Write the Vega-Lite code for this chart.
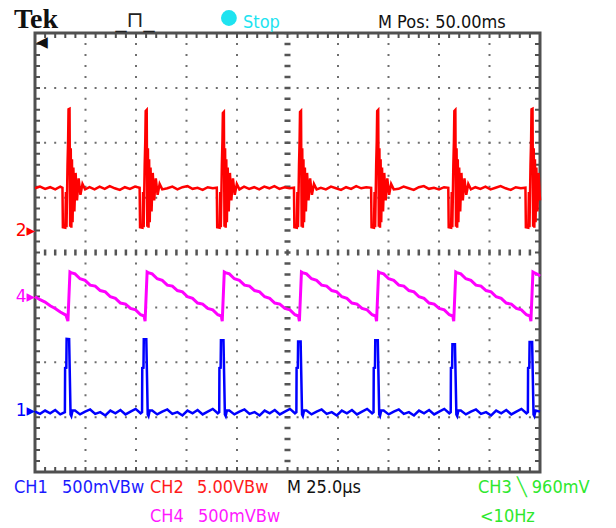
{
  "$schema": "https://vega.github.io/schema/vega-lite/v6.json",
  "width": 505,
  "height": 439,
  "autosize": {"type": "none"},
  "padding": {"left": 35, "top": 33, "right": 76, "bottom": 56},
  "background": "white",
  "config": {"view": {"stroke": "#505050", "strokeWidth": 3}},
  "datasets": {
    "one": [{}],
    "ch2": [
      {"t":0,"v":1.17},{"t":2.5,"v":1.20},{"t":5,"v":1.16},{"t":7.5,"v":1.19},{"t":10,"v":1.15},{"t":12.5,"v":1.20},
      {"t":13.6,"v":1.18},{"t":13.8,"v":0.46},{"t":15.0,"v":0.45},{"t":15.3,"v":1.10},{"t":15.6,"v":0.46},{"t":16.1,"v":1.60},{"t":16.4,"v":2.05},{"t":16.6,"v":2.61},{"t":17.1,"v":2.62},{"t":17.4,"v":0.47},{"t":17.7,"v":1.90},{"t":18.0,"v":0.45},{"t":18.3,"v":1.70},{"t":18.6,"v":0.55},{"t":19.0,"v":1.55},{"t":19.5,"v":0.75},{"t":20.1,"v":1.45},{"t":20.8,"v":0.95},{"t":21.6,"v":1.35},{"t":22.5,"v":1.05},{"t":23.5,"v":1.25},{"t":24.8,"v":1.15},
      {"t":27,"v":1.19},{"t":29.5,"v":1.15},{"t":32,"v":1.20},{"t":34.5,"v":1.16},{"t":37,"v":1.21},{"t":39.5,"v":1.17},{"t":42,"v":1.14},{"t":44.5,"v":1.19},{"t":47,"v":1.16},{"t":49.5,"v":1.20},
      {"t":51.8,"v":1.18},{"t":52.0,"v":0.46},{"t":53.2,"v":0.45},{"t":53.5,"v":1.10},{"t":53.8,"v":0.46},{"t":54.3,"v":1.60},{"t":54.6,"v":2.05},{"t":54.8,"v":2.58},{"t":55.3,"v":2.60},{"t":55.6,"v":0.47},{"t":55.9,"v":1.90},{"t":56.2,"v":0.45},{"t":56.5,"v":1.70},{"t":56.8,"v":0.55},{"t":57.2,"v":1.55},{"t":57.7,"v":0.75},{"t":58.3,"v":1.45},{"t":59.0,"v":0.95},{"t":59.8,"v":1.35},{"t":60.7,"v":1.05},{"t":61.7,"v":1.25},{"t":63.0,"v":1.15},
      {"t":65.5,"v":1.17},{"t":68,"v":1.20},{"t":70.5,"v":1.15},{"t":73,"v":1.19},{"t":75.5,"v":1.21},{"t":78,"v":1.16},{"t":80.5,"v":1.18},{"t":83,"v":1.14},{"t":85.5,"v":1.19},{"t":88,"v":1.17},
      {"t":90.0,"v":1.18},{"t":90.2,"v":0.46},{"t":91.4,"v":0.45},{"t":91.7,"v":1.10},{"t":92.0,"v":0.46},{"t":92.5,"v":1.60},{"t":92.8,"v":2.05},{"t":93.0,"v":2.54},{"t":93.5,"v":2.56},{"t":93.8,"v":0.47},{"t":94.1,"v":1.90},{"t":94.4,"v":0.45},{"t":94.7,"v":1.70},{"t":95.0,"v":0.55},{"t":95.4,"v":1.55},{"t":95.9,"v":0.75},{"t":96.5,"v":1.45},{"t":97.2,"v":0.95},{"t":98.0,"v":1.35},{"t":98.9,"v":1.05},{"t":99.9,"v":1.25},{"t":101.2,"v":1.15},
      {"t":103.5,"v":1.20},{"t":106,"v":1.16},{"t":108.5,"v":1.19},{"t":111,"v":1.15},{"t":113.5,"v":1.20},{"t":116,"v":1.17},{"t":118.5,"v":1.21},{"t":121,"v":1.16},{"t":123.5,"v":1.19},{"t":126,"v":1.17},
      {"t":128.2,"v":1.18},{"t":128.4,"v":0.46},{"t":129.6,"v":0.45},{"t":129.9,"v":1.10},{"t":130.2,"v":0.46},{"t":130.7,"v":1.60},{"t":131.0,"v":2.05},{"t":131.2,"v":2.56},{"t":131.7,"v":2.58},{"t":132.0,"v":0.47},{"t":132.3,"v":1.90},{"t":132.6,"v":0.45},{"t":132.9,"v":1.70},{"t":133.2,"v":0.55},{"t":133.6,"v":1.55},{"t":134.1,"v":0.75},{"t":134.7,"v":1.45},{"t":135.4,"v":0.95},{"t":136.2,"v":1.35},{"t":137.1,"v":1.05},{"t":138.1,"v":1.25},{"t":139.4,"v":1.15},
      {"t":141.5,"v":1.18},{"t":144,"v":1.15},{"t":146.5,"v":1.20},{"t":149,"v":1.17},{"t":151.5,"v":1.14},{"t":154,"v":1.19},{"t":156.5,"v":1.16},{"t":159,"v":1.21},{"t":161.5,"v":1.17},{"t":164,"v":1.19},
      {"t":166.4,"v":1.18},{"t":166.6,"v":0.46},{"t":167.8,"v":0.45},{"t":168.1,"v":1.10},{"t":168.4,"v":0.46},{"t":168.9,"v":1.60},{"t":169.2,"v":2.05},{"t":169.4,"v":2.58},{"t":169.9,"v":2.60},{"t":170.2,"v":0.47},{"t":170.5,"v":1.90},{"t":170.8,"v":0.45},{"t":171.1,"v":1.70},{"t":171.4,"v":0.55},{"t":171.8,"v":1.55},{"t":172.3,"v":0.75},{"t":172.9,"v":1.45},{"t":173.6,"v":0.95},{"t":174.4,"v":1.35},{"t":175.3,"v":1.05},{"t":176.3,"v":1.25},{"t":177.6,"v":1.15},
      {"t":180,"v":1.16},{"t":182.5,"v":1.20},{"t":185,"v":1.17},{"t":187.5,"v":1.14},{"t":190,"v":1.19},{"t":192.5,"v":1.21},{"t":195,"v":1.16},{"t":197.5,"v":1.18},{"t":200,"v":1.15},{"t":202.5,"v":1.19},
      {"t":204.6,"v":1.18},{"t":204.8,"v":0.46},{"t":206.0,"v":0.45},{"t":206.3,"v":1.10},{"t":206.6,"v":0.46},{"t":207.1,"v":1.60},{"t":207.4,"v":2.05},{"t":207.6,"v":2.58},{"t":208.1,"v":2.60},{"t":208.4,"v":0.47},{"t":208.7,"v":1.90},{"t":209.0,"v":0.45},{"t":209.3,"v":1.70},{"t":209.6,"v":0.55},{"t":210.0,"v":1.55},{"t":210.5,"v":0.75},{"t":211.1,"v":1.45},{"t":211.8,"v":0.95},{"t":212.6,"v":1.35},{"t":213.5,"v":1.05},{"t":214.5,"v":1.25},{"t":215.8,"v":1.15},
      {"t":218,"v":1.19},{"t":220.5,"v":1.16},{"t":223,"v":1.20},{"t":225.5,"v":1.15},{"t":228,"v":1.18},{"t":230.5,"v":1.21},{"t":233,"v":1.17},{"t":235.5,"v":1.14},{"t":238,"v":1.19},{"t":240.5,"v":1.17},
      {"t":242.8,"v":1.18},{"t":243.0,"v":0.46},{"t":244.2,"v":0.45},{"t":244.5,"v":1.10},{"t":244.8,"v":0.46},{"t":245.3,"v":1.60},{"t":245.6,"v":2.05},{"t":245.8,"v":2.61},{"t":246.3,"v":2.62},{"t":246.6,"v":0.47},{"t":246.9,"v":1.90},{"t":247.2,"v":0.45},{"t":247.5,"v":1.70},{"t":247.8,"v":0.55},{"t":248.2,"v":1.55},{"t":248.7,"v":0.75},{"t":249.3,"v":1.45},{"t":250.0,"v":0.95}
    ],
    "ch4": [
      {"t":0,"v":-0.805},{"t":2.5,"v":-0.860},{"t":5,"v":-0.903},{"t":7.5,"v":-0.970},{"t":10,"v":-1.02},{"t":12.5,"v":-1.085},{"t":15.3,"v":-1.14},{"t":16.3,"v":-1.25},
      {"t":17.3,"v":-0.355},{"t":17.8,"v":-0.366},{"t":19.8,"v":-0.390},{"t":22.3,"v":-0.479},{"t":24.8,"v":-0.509},{"t":27.3,"v":-0.594},{"t":29.8,"v":-0.613},{"t":32.3,"v":-0.693},{"t":34.8,"v":-0.717},{"t":37.3,"v":-0.807},{"t":39.8,"v":-0.837},{"t":42.3,"v":-0.921},{"t":44.8,"v":-0.941},{"t":47.3,"v":-1.020},{"t":49.8,"v":-1.045},{"t":52.3,"v":-1.134},{"t":54.0,"v":-1.157},{"t":54.5,"v":-1.25},
      {"t":55.5,"v":-0.355},{"t":56.0,"v":-0.366},{"t":58.0,"v":-0.390},{"t":60.5,"v":-0.479},{"t":63.0,"v":-0.509},{"t":65.5,"v":-0.594},{"t":68.0,"v":-0.613},{"t":70.5,"v":-0.693},{"t":73.0,"v":-0.717},{"t":75.5,"v":-0.807},{"t":78.0,"v":-0.837},{"t":80.5,"v":-0.921},{"t":83.0,"v":-0.941},{"t":85.5,"v":-1.020},{"t":88.0,"v":-1.045},{"t":90.5,"v":-1.134},{"t":92.2,"v":-1.157},{"t":92.7,"v":-1.25},
      {"t":93.7,"v":-0.355},{"t":94.2,"v":-0.366},{"t":96.2,"v":-0.390},{"t":98.7,"v":-0.479},{"t":101.2,"v":-0.509},{"t":103.7,"v":-0.594},{"t":106.2,"v":-0.613},{"t":108.7,"v":-0.693},{"t":111.2,"v":-0.717},{"t":113.7,"v":-0.807},{"t":116.2,"v":-0.837},{"t":118.7,"v":-0.921},{"t":121.2,"v":-0.941},{"t":123.7,"v":-1.020},{"t":126.2,"v":-1.045},{"t":128.7,"v":-1.134},{"t":130.4,"v":-1.157},{"t":130.9,"v":-1.25},
      {"t":131.9,"v":-0.355},{"t":132.4,"v":-0.366},{"t":134.4,"v":-0.390},{"t":136.9,"v":-0.479},{"t":139.4,"v":-0.509},{"t":141.9,"v":-0.594},{"t":144.4,"v":-0.613},{"t":146.9,"v":-0.693},{"t":149.4,"v":-0.717},{"t":151.9,"v":-0.807},{"t":154.4,"v":-0.837},{"t":156.9,"v":-0.921},{"t":159.4,"v":-0.941},{"t":161.9,"v":-1.020},{"t":164.4,"v":-1.045},{"t":166.9,"v":-1.134},{"t":168.6,"v":-1.157},{"t":169.1,"v":-1.25},
      {"t":170.1,"v":-0.355},{"t":170.6,"v":-0.366},{"t":172.6,"v":-0.390},{"t":175.1,"v":-0.479},{"t":177.6,"v":-0.509},{"t":180.1,"v":-0.594},{"t":182.6,"v":-0.613},{"t":185.1,"v":-0.693},{"t":187.6,"v":-0.717},{"t":190.1,"v":-0.807},{"t":192.6,"v":-0.837},{"t":195.1,"v":-0.921},{"t":197.6,"v":-0.941},{"t":200.1,"v":-1.020},{"t":202.6,"v":-1.045},{"t":205.1,"v":-1.134},{"t":206.8,"v":-1.157},{"t":207.3,"v":-1.25},
      {"t":208.3,"v":-0.355},{"t":208.8,"v":-0.366},{"t":210.8,"v":-0.390},{"t":213.3,"v":-0.479},{"t":215.8,"v":-0.509},{"t":218.3,"v":-0.594},{"t":220.8,"v":-0.613},{"t":223.3,"v":-0.693},{"t":225.8,"v":-0.717},{"t":228.3,"v":-0.807},{"t":230.8,"v":-0.837},{"t":233.3,"v":-0.921},{"t":235.8,"v":-0.941},{"t":238.3,"v":-1.020},{"t":240.8,"v":-1.045},{"t":243.3,"v":-1.134},{"t":245.0,"v":-1.157},{"t":245.5,"v":-1.25},
      {"t":246.5,"v":-0.355},{"t":247.0,"v":-0.366},{"t":249.0,"v":-0.40},{"t":250,"v":-0.43}
    ],
    "ch1": [
      {"t":0,"v":-2.90},{"t":2.5,"v":-2.94},{"t":5,"v":-2.88},{"t":7.5,"v":-2.93},{"t":10,"v":-2.87},{"t":12.5,"v":-2.95},
      {"t":14.8,"v":-2.91},{"t":14.9,"v":-2.105},{"t":15.5,"v":-2.10},{"t":15.65,"v":-1.576},{"t":16.9,"v":-1.58},{"t":17.6,"v":-2.95},{"t":18.0,"v":-2.98},{"t":18.6,"v":-2.88},
      {"t":19.8,"v":-2.88},{"t":22.3,"v":-2.95},{"t":24.8,"v":-2.90},{"t":27.3,"v":-2.86},{"t":29.8,"v":-2.94},{"t":32.3,"v":-2.91},{"t":34.8,"v":-2.97},{"t":37.3,"v":-2.88},{"t":39.8,"v":-2.93},{"t":42.3,"v":-2.87},{"t":44.8,"v":-2.95},{"t":47.3,"v":-2.90},{"t":49.8,"v":-2.85},{"t":52.3,"v":-2.93},
      {"t":53.0,"v":-2.91},{"t":53.1,"v":-2.105},{"t":53.7,"v":-2.10},{"t":53.85,"v":-1.58},{"t":55.1,"v":-1.58},{"t":55.8,"v":-2.95},{"t":56.2,"v":-2.98},{"t":56.8,"v":-2.88},
      {"t":58.0,"v":-2.88},{"t":60.5,"v":-2.95},{"t":63.0,"v":-2.90},{"t":65.5,"v":-2.86},{"t":68.0,"v":-2.94},{"t":70.5,"v":-2.91},{"t":73.0,"v":-2.97},{"t":75.5,"v":-2.88},{"t":78.0,"v":-2.93},{"t":80.5,"v":-2.87},{"t":83.0,"v":-2.95},{"t":85.5,"v":-2.90},{"t":88.0,"v":-2.85},{"t":90.5,"v":-2.93},
      {"t":91.2,"v":-2.91},{"t":91.3,"v":-2.105},{"t":91.9,"v":-2.10},{"t":92.05,"v":-1.60},{"t":93.3,"v":-1.60},{"t":94.0,"v":-2.95},{"t":94.4,"v":-2.98},{"t":95.0,"v":-2.88},
      {"t":96.2,"v":-2.88},{"t":98.7,"v":-2.95},{"t":101.2,"v":-2.90},{"t":103.7,"v":-2.86},{"t":106.2,"v":-2.94},{"t":108.7,"v":-2.91},{"t":111.2,"v":-2.97},{"t":113.7,"v":-2.88},{"t":116.2,"v":-2.93},{"t":118.7,"v":-2.87},{"t":121.2,"v":-2.95},{"t":123.7,"v":-2.90},{"t":126.2,"v":-2.85},{"t":128.7,"v":-2.93},
      {"t":129.4,"v":-2.91},{"t":129.5,"v":-2.105},{"t":130.1,"v":-2.10},{"t":130.25,"v":-1.62},{"t":131.5,"v":-1.62},{"t":132.2,"v":-2.95},{"t":132.6,"v":-2.98},{"t":133.2,"v":-2.88},
      {"t":134.4,"v":-2.88},{"t":136.9,"v":-2.95},{"t":139.4,"v":-2.90},{"t":141.9,"v":-2.86},{"t":144.4,"v":-2.94},{"t":146.9,"v":-2.91},{"t":149.4,"v":-2.97},{"t":151.9,"v":-2.88},{"t":154.4,"v":-2.93},{"t":156.9,"v":-2.87},{"t":159.4,"v":-2.95},{"t":161.9,"v":-2.90},{"t":164.4,"v":-2.85},{"t":166.9,"v":-2.93},
      {"t":167.6,"v":-2.91},{"t":167.7,"v":-2.105},{"t":168.3,"v":-2.10},{"t":168.45,"v":-1.60},{"t":169.7,"v":-1.60},{"t":170.4,"v":-2.95},{"t":170.8,"v":-2.98},{"t":171.4,"v":-2.88},
      {"t":172.6,"v":-2.88},{"t":175.1,"v":-2.95},{"t":177.6,"v":-2.90},{"t":180.1,"v":-2.86},{"t":182.6,"v":-2.94},{"t":185.1,"v":-2.91},{"t":187.6,"v":-2.97},{"t":190.1,"v":-2.88},{"t":192.6,"v":-2.93},{"t":195.1,"v":-2.87},{"t":197.6,"v":-2.95},{"t":200.1,"v":-2.90},{"t":202.6,"v":-2.85},{"t":205.1,"v":-2.93},
      {"t":205.8,"v":-2.91},{"t":205.9,"v":-2.105},{"t":206.5,"v":-2.10},{"t":206.65,"v":-1.67},{"t":207.9,"v":-1.67},{"t":208.6,"v":-2.95},{"t":209.0,"v":-2.98},{"t":209.6,"v":-2.88},
      {"t":210.8,"v":-2.88},{"t":213.3,"v":-2.95},{"t":215.8,"v":-2.90},{"t":218.3,"v":-2.86},{"t":220.8,"v":-2.94},{"t":223.3,"v":-2.91},{"t":225.8,"v":-2.97},{"t":228.3,"v":-2.88},{"t":230.8,"v":-2.93},{"t":233.3,"v":-2.87},{"t":235.8,"v":-2.95},{"t":238.3,"v":-2.90},{"t":240.8,"v":-2.85},{"t":243.3,"v":-2.93},
      {"t":244.0,"v":-2.91},{"t":244.1,"v":-2.105},{"t":244.7,"v":-2.10},{"t":244.85,"v":-1.63},{"t":246.1,"v":-1.63},{"t":246.8,"v":-2.95},{"t":247.2,"v":-2.98},{"t":247.8,"v":-2.88},{"t":250,"v":-2.90}
    ]
  },
  "layer": [
    {"data": {"name": "one"}, "mark": {"type": "rule", "color": "#6e6e6e", "strokeWidth": 2, "strokeDash": [2, 8.975], "strokeDashOffset": 1},
     "encoding": {"x": {"datum": 25, "scale": {"domain": [0, 250], "nice": false, "zero": false}, "axis": null}}},
    {"data": {"name": "one"}, "mark": {"type": "rule", "color": "#6e6e6e", "strokeWidth": 2, "strokeDash": [2, 8.975], "strokeDashOffset": 1},
     "encoding": {"x": {"datum": 50, "scale": {"domain": [0, 250], "nice": false, "zero": false}, "axis": null}}},
    {"data": {"name": "one"}, "mark": {"type": "rule", "color": "#6e6e6e", "strokeWidth": 2, "strokeDash": [2, 8.975], "strokeDashOffset": 1},
     "encoding": {"x": {"datum": 75, "scale": {"domain": [0, 250], "nice": false, "zero": false}, "axis": null}}},
    {"data": {"name": "one"}, "mark": {"type": "rule", "color": "#6e6e6e", "strokeWidth": 2, "strokeDash": [2, 8.975], "strokeDashOffset": 1},
     "encoding": {"x": {"datum": 100, "scale": {"domain": [0, 250], "nice": false, "zero": false}, "axis": null}}},
    {"data": {"name": "one"}, "mark": {"type": "rule", "color": "#6e6e6e", "strokeWidth": 2, "strokeDash": [2, 8.975], "strokeDashOffset": 1},
     "encoding": {"x": {"datum": 150, "scale": {"domain": [0, 250], "nice": false, "zero": false}, "axis": null}}},
    {"data": {"name": "one"}, "mark": {"type": "rule", "color": "#6e6e6e", "strokeWidth": 2, "strokeDash": [2, 8.975], "strokeDashOffset": 1},
     "encoding": {"x": {"datum": 175, "scale": {"domain": [0, 250], "nice": false, "zero": false}, "axis": null}}},
    {"data": {"name": "one"}, "mark": {"type": "rule", "color": "#6e6e6e", "strokeWidth": 2, "strokeDash": [2, 8.975], "strokeDashOffset": 1},
     "encoding": {"x": {"datum": 200, "scale": {"domain": [0, 250], "nice": false, "zero": false}, "axis": null}}},
    {"data": {"name": "one"}, "mark": {"type": "rule", "color": "#6e6e6e", "strokeWidth": 2, "strokeDash": [2, 8.975], "strokeDashOffset": 1},
     "encoding": {"x": {"datum": 225, "scale": {"domain": [0, 250], "nice": false, "zero": false}, "axis": null}}},
    {"data": {"name": "one"}, "mark": {"type": "rule", "color": "#6e6e6e", "strokeWidth": 2, "strokeDash": [2, 8.1], "strokeDashOffset": 1},
     "encoding": {"y": {"datum": 3, "scale": {"domain": [-4, 4], "nice": false, "zero": false}, "axis": null}}},
    {"data": {"name": "one"}, "mark": {"type": "rule", "color": "#6e6e6e", "strokeWidth": 2, "strokeDash": [2, 8.1], "strokeDashOffset": 1},
     "encoding": {"y": {"datum": 2, "scale": {"domain": [-4, 4], "nice": false, "zero": false}, "axis": null}}},
    {"data": {"name": "one"}, "mark": {"type": "rule", "color": "#6e6e6e", "strokeWidth": 2, "strokeDash": [2, 8.1], "strokeDashOffset": 1},
     "encoding": {"y": {"datum": 1, "scale": {"domain": [-4, 4], "nice": false, "zero": false}, "axis": null}}},
    {"data": {"name": "one"}, "mark": {"type": "rule", "color": "#6e6e6e", "strokeWidth": 2, "strokeDash": [2, 8.1], "strokeDashOffset": 1},
     "encoding": {"y": {"datum": -1, "scale": {"domain": [-4, 4], "nice": false, "zero": false}, "axis": null}}},
    {"data": {"name": "one"}, "mark": {"type": "rule", "color": "#6e6e6e", "strokeWidth": 2, "strokeDash": [2, 8.1], "strokeDashOffset": 1},
     "encoding": {"y": {"datum": -2, "scale": {"domain": [-4, 4], "nice": false, "zero": false}, "axis": null}}},
    {"data": {"name": "one"}, "mark": {"type": "rule", "color": "#6e6e6e", "strokeWidth": 2, "strokeDash": [2, 8.1], "strokeDashOffset": 1},
     "encoding": {"y": {"datum": -3, "scale": {"domain": [-4, 4], "nice": false, "zero": false}, "axis": null}}},
    {"data": {"name": "one"}, "mark": {"type": "rule", "color": "#555555", "strokeWidth": 6, "strokeDash": [2.5, 8.475], "strokeDashOffset": 1.25},
     "encoding": {"x": {"datum": 125, "scale": {"domain": [0, 250], "nice": false, "zero": false}, "axis": null}}},
    {"data": {"name": "one"}, "mark": {"type": "rule", "color": "#555555", "strokeWidth": 6, "strokeDash": [2.5, 7.6], "strokeDashOffset": 1.25},
     "encoding": {"y": {"datum": 0, "scale": {"domain": [-4, 4], "nice": false, "zero": false}, "axis": null}}},
    {"data": {"name": "one"}, "mark": {"type": "rule", "color": "#505050", "strokeWidth": 5, "strokeDash": [2, 8.975], "strokeDashOffset": 1},
     "encoding": {"x": {"datum": 1.24, "scale": {"domain": [0, 250], "nice": false, "zero": false}, "axis": null}}},
    {"data": {"name": "one"}, "mark": {"type": "rule", "color": "#505050", "strokeWidth": 5, "strokeDash": [2, 8.975], "strokeDashOffset": 1},
     "encoding": {"x": {"datum": 248.76, "scale": {"domain": [0, 250], "nice": false, "zero": false}, "axis": null}}},
    {"data": {"name": "one"}, "mark": {"type": "rule", "color": "#505050", "strokeWidth": 5, "strokeDash": [2, 8.1], "strokeDashOffset": 1},
     "encoding": {"y": {"datum": 3.954, "scale": {"domain": [-4, 4], "nice": false, "zero": false}, "axis": null}}},
    {"data": {"name": "one"}, "mark": {"type": "rule", "color": "#505050", "strokeWidth": 5, "strokeDash": [2, 8.1], "strokeDashOffset": 1},
     "encoding": {"y": {"datum": -3.954, "scale": {"domain": [-4, 4], "nice": false, "zero": false}, "axis": null}}},
    {
      "data": {"name": "ch2"},
      "mark": {"type": "line", "color": "#ff0000", "strokeWidth": 2.5},
      "encoding": {
        "x": {"field": "t", "type": "quantitative", "scale": {"domain": [0, 250], "nice": false, "zero": false}, "axis": null},
        "y": {"field": "v", "type": "quantitative", "scale": {"domain": [-4, 4], "nice": false, "zero": false}, "axis": null}
      }
    },
    {
      "data": {"name": "ch4"},
      "mark": {"type": "line", "color": "#ff00ff", "strokeWidth": 3},
      "encoding": {
        "x": {"field": "t", "type": "quantitative", "scale": {"domain": [0, 250], "nice": false, "zero": false}, "axis": null},
        "y": {"field": "v", "type": "quantitative", "scale": {"domain": [-4, 4], "nice": false, "zero": false}, "axis": null}
      }
    },
    {
      "data": {"name": "ch1"},
      "mark": {"type": "line", "color": "#0000ff", "strokeWidth": 2.5},
      "encoding": {
        "x": {"field": "t", "type": "quantitative", "scale": {"domain": [0, 250], "nice": false, "zero": false}, "axis": null},
        "y": {"field": "v", "type": "quantitative", "scale": {"domain": [-4, 4], "nice": false, "zero": false}, "axis": null}
      }
    },
    {"data": {"name": "one"}, "mark": {"type": "text", "text": "Tek", "font": "Liberation Serif", "fontWeight": "bold", "fontSize": 28, "align": "left", "baseline": "alphabetic", "color": "#111111"},
     "encoding": {"x": {"datum": -10.4, "scale": {"domain": [0, 250], "nice": false, "zero": false}, "axis": null}, "y": {"datum": 4.091, "scale": {"domain": [-4, 4], "nice": false, "zero": false}, "axis": null}}},
    {"data": {"name": "one"}, "mark": {"type": "text", "text": "_⊓_", "font": "DejaVu Sans", "fontSize": 22, "align": "center", "baseline": "alphabetic", "color": "#222222"},
     "encoding": {"x": {"datum": 49.5, "scale": {"domain": [0, 250], "nice": false, "zero": false}, "axis": null}, "y": {"datum": 4.11, "scale": {"domain": [-4, 4], "nice": false, "zero": false}, "axis": null}}},
    {"data": {"name": "one"}, "mark": {"type": "point", "filled": true, "shape": "circle", "size": 250, "color": "#1ee3f0", "opacity": 1},
     "encoding": {"x": {"datum": 96.0, "scale": {"domain": [0, 250], "nice": false, "zero": false}, "axis": null}, "y": {"datum": 4.273, "scale": {"domain": [-4, 4], "nice": false, "zero": false}, "axis": null}}},
    {"data": {"name": "one"}, "mark": {"type": "text", "text": "Stop", "font": "DejaVu Sans Condensed", "fontSize": 18, "align": "left", "baseline": "alphabetic", "color": "#1ee3f0"},
     "encoding": {"x": {"datum": 103.0, "scale": {"domain": [0, 250], "nice": false, "zero": false}, "axis": null}, "y": {"datum": 4.091, "scale": {"domain": [-4, 4], "nice": false, "zero": false}, "axis": null}}},
    {"data": {"name": "one"}, "mark": {"type": "text", "text": "M Pos: 50.00ms", "font": "DejaVu Sans Condensed", "fontSize": 18, "align": "left", "baseline": "alphabetic", "color": "#111111"},
     "encoding": {"x": {"datum": 169.8, "scale": {"domain": [0, 250], "nice": false, "zero": false}, "axis": null}, "y": {"datum": 4.091, "scale": {"domain": [-4, 4], "nice": false, "zero": false}, "axis": null}}},
    {"data": {"name": "one"}, "mark": {"type": "text", "text": "◀", "font": "DejaVu Sans", "fontSize": 15, "align": "left", "baseline": "middle", "color": "#111111"},
     "encoding": {"x": {"datum": 0.6, "scale": {"domain": [0, 250], "nice": false, "zero": false}, "axis": null}, "y": {"datum": 3.845, "scale": {"domain": [-4, 4], "nice": false, "zero": false}, "axis": null}}},
    {"data": {"name": "one"}, "mark": {"type": "text", "text": "2▸", "font": "DejaVu Sans", "fontSize": 17, "align": "right", "baseline": "middle", "color": "#ff0000"},
     "encoding": {"x": {"datum": 0, "scale": {"domain": [0, 250], "nice": false, "zero": false}, "axis": null}, "y": {"datum": 0.399, "scale": {"domain": [-4, 4], "nice": false, "zero": false}, "axis": null}}},
    {"data": {"name": "one"}, "mark": {"type": "text", "text": "4▸", "font": "DejaVu Sans", "fontSize": 17, "align": "right", "baseline": "middle", "color": "#ff00ff"},
     "encoding": {"x": {"datum": 0, "scale": {"domain": [0, 250], "nice": false, "zero": false}, "axis": null}, "y": {"datum": -0.81, "scale": {"domain": [-4, 4], "nice": false, "zero": false}, "axis": null}}},
    {"data": {"name": "one"}, "mark": {"type": "text", "text": "1▸", "font": "DejaVu Sans", "fontSize": 17, "align": "right", "baseline": "middle", "color": "#0000ff"},
     "encoding": {"x": {"datum": 0, "scale": {"domain": [0, 250], "nice": false, "zero": false}, "axis": null}, "y": {"datum": -2.89, "scale": {"domain": [-4, 4], "nice": false, "zero": false}, "axis": null}}},
    {"data": {"name": "one"}, "mark": {"type": "text", "text": "CH1", "font": "DejaVu Sans Condensed", "fontSize": 18, "align": "left", "baseline": "alphabetic", "color": "#1a1aff"},
     "encoding": {"x": {"datum": -10.4, "scale": {"domain": [0, 250], "nice": false, "zero": false}, "axis": null}, "y": {"datum": -4.38, "scale": {"domain": [-4, 4], "nice": false, "zero": false}, "axis": null}}},
    {"data": {"name": "one"}, "mark": {"type": "text", "text": "500mVBᴡ", "font": "DejaVu Sans Condensed", "fontSize": 18, "align": "left", "baseline": "alphabetic", "color": "#1a1aff"},
     "encoding": {"x": {"datum": 13.4, "scale": {"domain": [0, 250], "nice": false, "zero": false}, "axis": null}, "y": {"datum": -4.38, "scale": {"domain": [-4, 4], "nice": false, "zero": false}, "axis": null}}},
    {"data": {"name": "one"}, "mark": {"type": "text", "text": "CH2", "font": "DejaVu Sans Condensed", "fontSize": 18, "align": "left", "baseline": "alphabetic", "color": "#ff1a1a"},
     "encoding": {"x": {"datum": 56.9, "scale": {"domain": [0, 250], "nice": false, "zero": false}, "axis": null}, "y": {"datum": -4.38, "scale": {"domain": [-4, 4], "nice": false, "zero": false}, "axis": null}}},
    {"data": {"name": "one"}, "mark": {"type": "text", "text": "5.00VBᴡ", "font": "DejaVu Sans Condensed", "fontSize": 18, "align": "left", "baseline": "alphabetic", "color": "#ff1a1a"},
     "encoding": {"x": {"datum": 80.2, "scale": {"domain": [0, 250], "nice": false, "zero": false}, "axis": null}, "y": {"datum": -4.38, "scale": {"domain": [-4, 4], "nice": false, "zero": false}, "axis": null}}},
    {"data": {"name": "one"}, "mark": {"type": "text", "text": "M 25.0µs", "font": "DejaVu Sans Condensed", "fontSize": 18, "align": "left", "baseline": "alphabetic", "color": "#111111"},
     "encoding": {"x": {"datum": 124.8, "scale": {"domain": [0, 250], "nice": false, "zero": false}, "axis": null}, "y": {"datum": -4.38, "scale": {"domain": [-4, 4], "nice": false, "zero": false}, "axis": null}}},
    {"data": {"name": "one"}, "mark": {"type": "text", "text": "CH3 ╲ 960mV", "font": "DejaVu Sans Condensed", "fontSize": 18, "align": "left", "baseline": "alphabetic", "color": "#2ee82e"},
     "encoding": {"x": {"datum": 219.3, "scale": {"domain": [0, 250], "nice": false, "zero": false}, "axis": null}, "y": {"datum": -4.38, "scale": {"domain": [-4, 4], "nice": false, "zero": false}, "axis": null}}},
    {"data": {"name": "one"}, "mark": {"type": "text", "text": "CH4", "font": "DejaVu Sans Condensed", "fontSize": 18, "align": "left", "baseline": "alphabetic", "color": "#ff1aff"},
     "encoding": {"x": {"datum": 56.9, "scale": {"domain": [0, 250], "nice": false, "zero": false}, "axis": null}, "y": {"datum": -4.91, "scale": {"domain": [-4, 4], "nice": false, "zero": false}, "axis": null}}},
    {"data": {"name": "one"}, "mark": {"type": "text", "text": "500mVBᴡ", "font": "DejaVu Sans Condensed", "fontSize": 18, "align": "left", "baseline": "alphabetic", "color": "#ff1aff"},
     "encoding": {"x": {"datum": 80.7, "scale": {"domain": [0, 250], "nice": false, "zero": false}, "axis": null}, "y": {"datum": -4.91, "scale": {"domain": [-4, 4], "nice": false, "zero": false}, "axis": null}}},
    {"data": {"name": "one"}, "mark": {"type": "text", "text": "<10Hz", "font": "DejaVu Sans Condensed", "fontSize": 18, "align": "left", "baseline": "alphabetic", "color": "#2ee82e"},
     "encoding": {"x": {"datum": 220.3, "scale": {"domain": [0, 250], "nice": false, "zero": false}, "axis": null}, "y": {"datum": -4.91, "scale": {"domain": [-4, 4], "nice": false, "zero": false}, "axis": null}}}
  ]
}
